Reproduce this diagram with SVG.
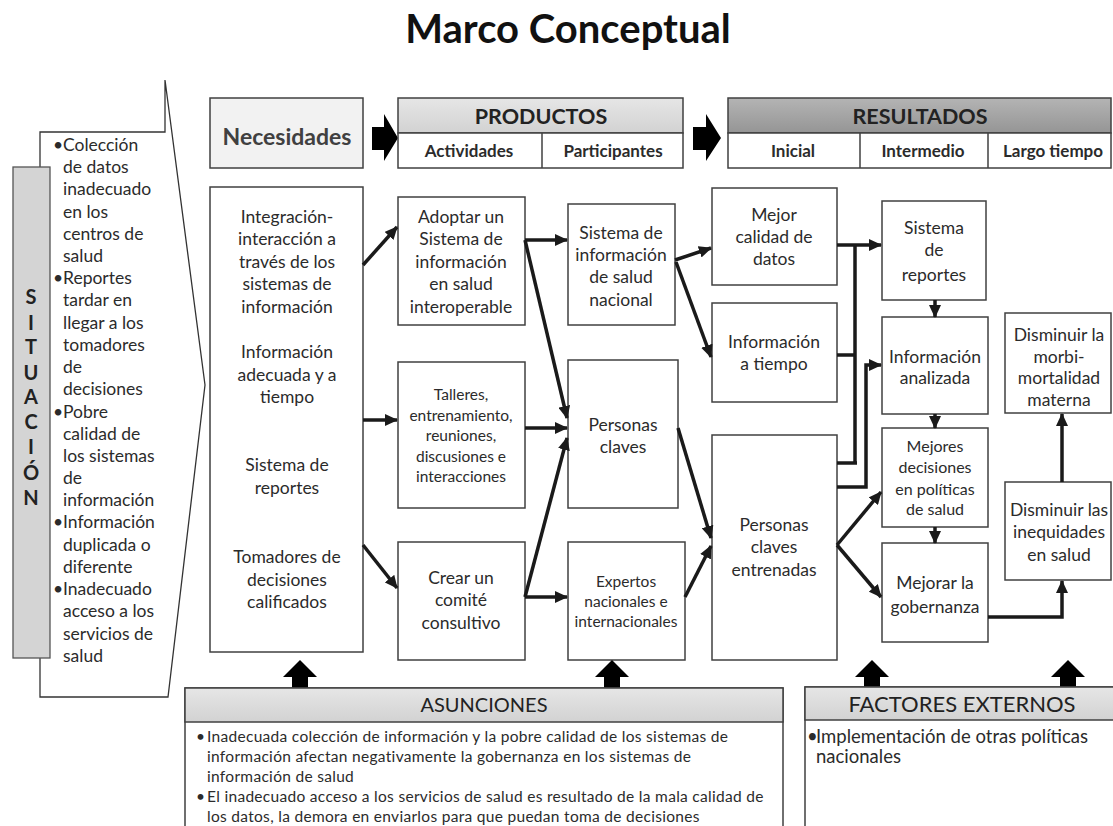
<svg xmlns="http://www.w3.org/2000/svg" width="1113" height="826" viewBox="0 0 1113 826">
<defs>
  <marker id="ah" markerUnits="userSpaceOnUse" markerWidth="14" markerHeight="12" refX="12" refY="6" orient="auto">
    <path d="M0,0 L13,6 L0,12 z" fill="#1a1a1a"/>
  </marker>
  <linearGradient id="gLight" x1="0" y1="0" x2="0" y2="1">
    <stop offset="0" stop-color="#e6e6e6"/>
    <stop offset="1" stop-color="#d2d2d2"/>
  </linearGradient>
  <linearGradient id="gDark" x1="0" y1="0" x2="0" y2="1">
    <stop offset="0" stop-color="#b4b4b4"/>
    <stop offset="1" stop-color="#959595"/>
  </linearGradient>
</defs>
<style>
  .box{fill:#fff;stroke:#404040;stroke-width:1.5}
  .t{font-family:Lato,"Liberation Sans",sans-serif;font-size:17.5px;fill:#2b2b2b;text-anchor:middle}
  .ts{font-size:15.5px}
  .tl{text-anchor:start}
  .b{font-weight:bold}
  .sh{font-weight:bold;font-size:17px}
  .c{fill:none;stroke:#1a1a1a;stroke-width:3.5}
  .ca{fill:none;stroke:#1a1a1a;stroke-width:3.5;marker-end:url(#ah)}
  .blk{fill:#000}
</style>
<rect width="1113" height="826" fill="#fff"/>

<g id="title">
  <text class="t b" x="568" y="43" style="font-size:40px;fill:#111">Marco Conceptual</text>
</g>

<g id="situacion">
  <path d="M165,132 L165,80 L205,385 L168,697 L40,697 L40,132 Z" fill="#fff" stroke="#333" stroke-width="1.3"/>
  <rect x="13" y="167" width="37" height="491" fill="#d4d4d4" stroke="#555" stroke-width="1.3"/>
  <g class="t b" style="font-size:20px;fill:#222">
    <text x="31" y="304">S</text>
    <text x="31" y="330">I</text>
    <text x="31" y="354">T</text>
    <text x="31" y="380">U</text>
    <text x="31" y="404">A</text>
    <text x="31" y="429">C</text>
    <text x="31" y="454">I</text>
    <text x="31" y="480">Ó</text>
    <text x="31" y="505">N</text>
  </g>
  <g class="t tl">
    <text x="53" y="151">•</text>
    <text x="63" y="151">Colección</text>
    <text x="63" y="173">de datos</text>
    <text x="63" y="195">inadecuado</text>
    <text x="63" y="218">en los</text>
    <text x="63" y="240">centros de</text>
    <text x="63" y="262">salud</text>
    <text x="53" y="284">•</text>
    <text x="63" y="284">Reportes</text>
    <text x="63" y="306">tardar en</text>
    <text x="63" y="329">llegar a los</text>
    <text x="63" y="351">tomadores</text>
    <text x="63" y="373">de</text>
    <text x="63" y="395">decisiones</text>
    <text x="53" y="418">•</text>
    <text x="63" y="418">Pobre</text>
    <text x="63" y="440">calidad de</text>
    <text x="63" y="462">los sistemas</text>
    <text x="63" y="484">de</text>
    <text x="63" y="506">información</text>
    <text x="53" y="528">•</text>
    <text x="63" y="528">Información</text>
    <text x="63" y="551">duplicada o</text>
    <text x="63" y="573">diferente</text>
    <text x="53" y="595">•</text>
    <text x="63" y="595">Inadecuado</text>
    <text x="63" y="617">acceso a los</text>
    <text x="63" y="640">servicios de</text>
    <text x="63" y="662">salud</text>
  </g>
</g>

<g id="header-necesidades">
  <rect x="210" y="98" width="153" height="70" fill="#f2f2f2" stroke="#404040" stroke-width="1.5"/>
  <text class="t b" x="287" y="145" style="font-size:23px;fill:#404040">Necesidades</text>
</g>
<g id="header-arrow1">
  <path class="blk" d="M372,127 L384,127 L384,114 L398,138 L384,161 L384,150 L372,150 Z"/>
</g>
<g id="header-productos">
  <rect x="398" y="98" width="285" height="35" fill="url(#gLight)" stroke="#404040" stroke-width="1.5"/>
  <rect x="398" y="133" width="285" height="35" class="box"/>
  <line x1="542" y1="133" x2="542" y2="168" stroke="#404040" stroke-width="1.5"/>
  <text class="t b" x="541" y="124" style="font-size:21.5px;fill:#222">PRODUCTOS</text>
  <text class="t sh" x="469" y="157">Actividades</text>
  <text class="t sh" x="613" y="157">Participantes</text>
</g>
<g id="header-arrow2">
  <path class="blk" d="M693,127 L706,127 L706,114 L721,138 L706,161 L706,150 L693,150 Z"/>
</g>
<g id="header-resultados">
  <rect x="728" y="98" width="383" height="35" fill="url(#gDark)" stroke="#404040" stroke-width="1.5"/>
  <rect x="728" y="133" width="383" height="35" class="box"/>
  <line x1="860" y1="133" x2="860" y2="168" stroke="#404040" stroke-width="1.5"/>
  <line x1="988" y1="133" x2="988" y2="168" stroke="#404040" stroke-width="1.5"/>
  <text class="t b" x="920" y="124" style="font-size:21.5px;fill:#222">RESULTADOS</text>
  <text class="t sh" x="793" y="157">Inicial</text>
  <text class="t sh" x="923" y="157">Intermedio</text>
  <text class="t sh" x="1053" y="157">Largo tiempo</text>
</g>

<g id="necesidades">
  <rect x="210" y="187" width="153" height="465" class="box"/>
  <g class="t">
    <text x="287" y="223">Integración-</text>
    <text x="287" y="245">interacción a</text>
    <text x="287" y="268">través de los</text>
    <text x="287" y="290">sistemas de</text>
    <text x="287" y="313">información</text>
    <text x="287" y="358">Información</text>
    <text x="287" y="381">adecuada y a</text>
    <text x="287" y="403">tiempo</text>
    <text x="287" y="471">Sistema de</text>
    <text x="287" y="494">reportes</text>
    <text x="287" y="563">Tomadores de</text>
    <text x="287" y="586">decisiones</text>
    <text x="287" y="608">calificados</text>
  </g>
</g>

<g id="act-adoptar">
  <rect x="398" y="197" width="127" height="128" class="box"/>
  <g class="t">
    <text x="461" y="223">Adoptar un</text>
    <text x="461" y="245">Sistema de</text>
    <text x="461" y="268">información</text>
    <text x="461" y="290">en salud</text>
    <text x="461" y="313">interoperable</text>
  </g>
</g>
<g id="act-talleres">
  <rect x="398" y="362" width="127" height="146" class="box"/>
  <g class="t ts">
    <text x="461" y="400">Talleres,</text>
    <text x="461" y="421">entrenamiento,</text>
    <text x="461" y="441">reuniones,</text>
    <text x="461" y="462">discusiones  e</text>
    <text x="461" y="482">interacciones</text>
  </g>
</g>
<g id="act-crear">
  <rect x="398" y="542" width="127" height="118" class="box"/>
  <g class="t">
    <text x="461" y="584">Crear un</text>
    <text x="461" y="606">comité</text>
    <text x="461" y="629">consultivo</text>
  </g>
</g>

<g id="part-sistema">
  <rect x="568" y="204" width="107" height="121" class="box"/>
  <g class="t">
    <text x="621" y="239">Sistema de</text>
    <text x="621" y="261">información</text>
    <text x="621" y="283">de salud</text>
    <text x="621" y="306">nacional</text>
  </g>
</g>
<g id="part-personas">
  <rect x="568" y="360" width="110" height="148" class="box"/>
  <g class="t">
    <text x="623" y="431">Personas</text>
    <text x="623" y="453">claves</text>
  </g>
</g>
<g id="part-expertos">
  <rect x="568" y="542" width="117" height="118" class="box"/>
  <g class="t ts">
    <text x="626" y="587">Expertos</text>
    <text x="626" y="607">nacionales e</text>
    <text x="626" y="627">internacionales</text>
  </g>
</g>

<g id="ini-calidad">
  <rect x="712" y="188" width="125" height="97" class="box"/>
  <g class="t">
    <text x="774" y="221">Mejor</text>
    <text x="774" y="243">calidad de</text>
    <text x="774" y="265">datos</text>
  </g>
</g>
<g id="ini-tiempo">
  <rect x="712" y="303" width="125" height="99" class="box"/>
  <g class="t">
    <text x="774" y="348">Información</text>
    <text x="774" y="370">a tiempo</text>
  </g>
</g>
<g id="ini-entrenadas">
  <rect x="712" y="435" width="125" height="225" class="box"/>
  <g class="t">
    <text x="774" y="531">Personas</text>
    <text x="774" y="553">claves</text>
    <text x="774" y="576">entrenadas</text>
  </g>
</g>

<g id="int-reportes">
  <rect x="882" y="201" width="104" height="99" class="box"/>
  <g class="t">
    <text x="934" y="234">Sistema</text>
    <text x="934" y="256">de</text>
    <text x="934" y="281">reportes</text>
  </g>
</g>
<g id="int-analizada">
  <rect x="882" y="317" width="106" height="97" class="box"/>
  <g class="t">
    <text x="935" y="363">Información</text>
    <text x="935" y="384">analizada</text>
  </g>
</g>
<g id="int-decisiones">
  <rect x="882" y="428" width="106" height="99" class="box"/>
  <g class="t" style="font-size:16px">
    <text x="935" y="452">Mejores</text>
    <text x="935" y="473">decisiones</text>
    <text x="935" y="495">en políticas</text>
    <text x="935" y="515">de salud</text>
  </g>
</g>
<g id="int-gobernanza">
  <rect x="882" y="543" width="106" height="99" class="box"/>
  <g class="t">
    <text x="935" y="589">Mejorar la</text>
    <text x="935" y="613">gobernanza</text>
  </g>
</g>

<g id="lt-morbi">
  <rect x="1005" y="313" width="106" height="100" class="box"/>
  <g class="t">
    <text x="1059" y="341">Disminuir la</text>
    <text x="1059" y="363">morbi-</text>
    <text x="1059" y="384">mortalidad</text>
    <text x="1059" y="406">materna</text>
  </g>
</g>
<g id="lt-inequidades">
  <rect x="1005" y="482" width="106" height="98" class="box"/>
  <g class="t">
    <text x="1059" y="516">Disminuir las</text>
    <text x="1059" y="538">inequidades</text>
    <text x="1059" y="561">en salud</text>
  </g>
</g>

<g id="connectors">
  <path class="ca" d="M363,265 L397,227"/>
  <path class="ca" d="M363,420 L397,420"/>
  <path class="ca" d="M363,545 L397,588"/>
  <path class="ca" d="M525,240 L567,240"/>
  <path class="ca" d="M525,240 L567,418"/>
  <path class="ca" d="M525,428 L567,428"/>
  <path class="ca" d="M525,597 L567,597"/>
  <path class="ca" d="M525,597 L567,438"/>
  <path class="ca" d="M675,260 L711,248"/>
  <path class="ca" d="M676,262 L711,357"/>
  <path class="ca" d="M678,428 L711,538"/>
  <path class="ca" d="M685,597 L711,546"/>
  <path class="c" d="M855,245 L855,463 M837,355 L855,355 M837,463 L857,463"/>
  <path class="ca" d="M837,245 L881,245"/>
  <path class="ca" d="M837,487 L866,487 L866,365 L881,365"/>
  <path class="ca" d="M837,545 L881,492"/>
  <path class="ca" d="M837,545 L881,597"/>
  <path class="ca" d="M935,300 L935,317"/>
  <path class="ca" d="M935,414 L935,428"/>
  <path class="ca" d="M935,527 L935,543"/>
  <path class="ca" d="M1062,482 L1062,414"/>
  <path class="ca" d="M988,617 L1062,617 L1062,581"/>
  <g id="block-arrows">
    <path class="blk" d="M292,688 L292,677 L283,677 L300,660 L317,677 L308,677 L308,688 Z"/>
    <path class="blk" d="M604,688 L604,677 L595,677 L612,660 L629,677 L620,677 L620,688 Z"/>
    <path class="blk" d="M864,688 L864,677 L855,677 L872,660 L889,677 L880,677 L880,688 Z"/>
    <path class="blk" d="M1060,688 L1060,677 L1051,677 L1068,660 L1085,677 L1076,677 L1076,688 Z"/>
  </g>
</g>

<g id="asunciones">
  <rect x="185" y="688" width="598" height="150" class="box"/>
  <rect x="185" y="688" width="598" height="34" fill="url(#gLight)" stroke="#404040" stroke-width="1.5"/>
  <text class="t" x="484" y="712" style="font-size:20px;fill:#222">ASUNCIONES</text>
  <g class="t tl" style="font-size:15.5px;letter-spacing:0.3px">
    <text x="196" y="742">•</text>
    <text x="207" y="742">Inadecuada colección de información y la pobre calidad de los sistemas de</text>
    <text x="207" y="762">información afectan negativamente  la gobernanza  en los sistemas de</text>
    <text x="207" y="782">información de salud</text>
    <text x="196" y="802">•</text>
    <text x="207" y="802">El inadecuado  acceso a los servicios de salud es resultado de la mala calidad de</text>
    <text x="207" y="822">los datos, la demora en enviarlos para que puedan toma de decisiones</text>
  </g>
</g>

<g id="factores">
  <rect x="805" y="687" width="315" height="150" class="box"/>
  <rect x="805" y="687" width="315" height="33" fill="url(#gLight)" stroke="#404040" stroke-width="1.5"/>
  <text class="t" x="962" y="712" style="font-size:22px;fill:#222">FACTORES EXTERNOS</text>
  <g class="t tl" style="font-size:18.5px">
    <text x="807" y="743">•</text>
    <text x="816" y="743">Implementación de otras políticas</text>
    <text x="816" y="763">nacionales</text>
  </g>
</g>
</svg>
